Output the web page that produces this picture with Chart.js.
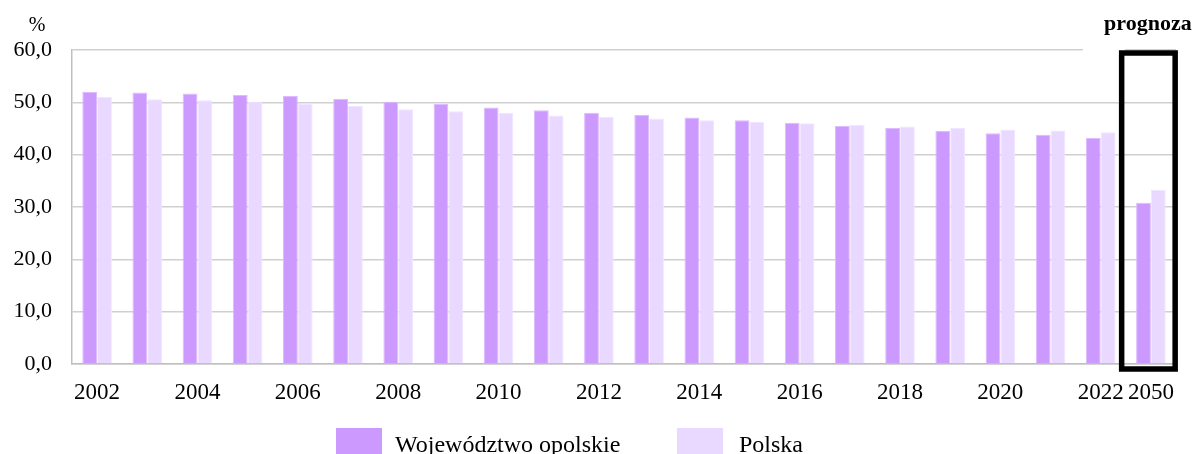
<!DOCTYPE html>
<html>
<head>
<meta charset="utf-8">
<script src="https://cdn.jsdelivr.net/npm/chart.js@4/dist/chart.umd.min.js"></script>
<style>
html,body{margin:0;padding:0;background:#fff;}
#wrap{width:1197px;height:454px;position:relative;}
</style>
</head>
<body>
<div id="wrap"><canvas id="c" width="1197" height="454"></canvas></div>
<script>
const categories = ['2002','2003','2004','2005','2006','2007','2008','2009','2010','2011','2012','2013','2014','2015','2016','2017','2018','2019','2020','2021','2022','2050'];
const opolskie = [52.0,51.9,51.7,51.4,51.2,50.7,50.1,49.7,49.0,48.5,48.0,47.6,47.1,46.6,46.1,45.5,45.1,44.5,44.1,43.8,43.2,30.8];
const polska   = [51.0,50.6,50.4,50.1,49.7,49.3,48.7,48.3,48.0,47.5,47.2,46.9,46.6,46.3,46.0,45.7,45.4,45.1,44.8,44.6,44.3,33.3];
const seriesNames = ['Województwo opolskie','Polska'];
const yTicks = [0,10,20,30,40,50,60];
const unitLabel = '%';
const forecastLabel = 'prognoza';

const FONT = '"Liberation Serif", "Times New Roman", serif';

const overlay = {
  id: 'overlay',
  afterDraw(chart) {
    const ctx = chart.ctx;
    const x = chart.scales.x;
    const ca = chart.chartArea;
    ctx.save();
    const cx = x.getPixelForValue(categories.length - 1);
    // cut the top gridline under the label area
    ctx.fillStyle = '#fff';
    ctx.fillRect(cx - 68, ca.top - 2, 42, 4);
    // forecast box
    ctx.strokeStyle = '#000';
    ctx.lineWidth = 5.5;
    ctx.strokeRect(cx - 29.25, ca.top + 3, 53.5, ca.bottom - ca.top + 2);
    // labels
    ctx.fillStyle = '#000';
    ctx.font = 'bold 22px ' + FONT;
    ctx.textAlign = 'center';
    ctx.textBaseline = 'alphabetic';
    ctx.fillText(forecastLabel, cx - 3, 30);
    ctx.font = '20px ' + FONT;
    ctx.fillText(unitLabel, 37, 31);
    // legend
    const ds = chart.data.datasets;
    const pos = [[336, 395], [677, 739]];
    ctx.textAlign = 'left';
    ctx.font = '24px ' + FONT;
    ds.forEach((d, i) => {
      ctx.fillStyle = d.backgroundColor;
      ctx.fillRect(pos[i][0], 428, 46, 27);
      ctx.fillStyle = '#000';
      ctx.fillText(d.label, pos[i][1], 452);
    });
    ctx.restore();
  }
};

new Chart(document.getElementById('c'), {
  type: 'bar',
  data: {
    labels: categories,
    datasets: [
      { label: seriesNames[0], data: opolskie, backgroundColor: '#CC99FF', borderColor: '#DDBBFF', borderWidth: 1 },
      { label: seriesNames[1], data: polska, backgroundColor: '#E9D8FF', borderColor: '#F1E6FF', borderWidth: 1 }
    ]
  },
  options: {
    responsive: false,
    animation: false,
    devicePixelRatio: 1,
    layout: { padding: { top: 50, left: 0, right: 21, bottom: 50 } },
    datasets: { bar: { categoryPercentage: 0.59, barPercentage: 1.0 } },
    plugins: { legend: { display: false }, tooltip: { enabled: false }, title: { display: false } },
    scales: {
      x: {
        grid: { display: false, drawTicks: false },
        border: { display: true, color: '#BFBFBF', width: 1.5 },
        ticks: {
          autoSkip: false, maxRotation: 0, minRotation: 0, padding: 15,
          color: '#000', font: { family: FONT, size: 23 },
          callback: function(v, i) { return (i % 2 === 0 || i === categories.length - 1) ? categories[i] : ''; }
        },
        afterFit(s) { s.height = 40; }
      },
      y: {
        min: 0, max: 60,
        afterBuildTicks(s) { s.ticks = yTicks.map(v => ({ value: v })); },
        grid: { color: '#CFCFCF', lineWidth: 1.5, drawTicks: false },
        border: { display: true, color: '#BFBFBF', width: 1.5 },
        ticks: {
          padding: 20, color: '#000', font: { family: FONT, size: 22 },
          callback: v => v.toFixed(1).replace('.', ',')
        },
        afterFit(s) { s.width = 72; }
      }
    }
  },
  plugins: [overlay]
});
</script>
</body>
</html>
